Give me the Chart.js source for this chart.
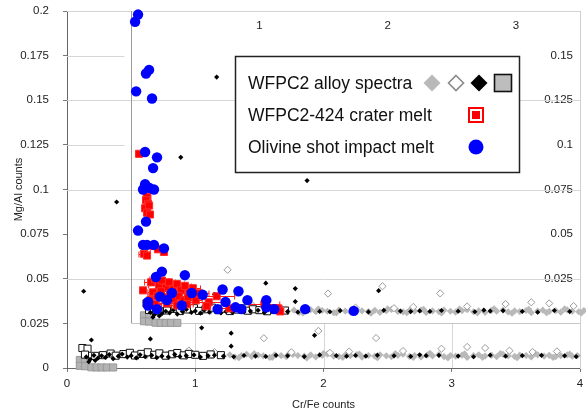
<!DOCTYPE html>
<html>
<head>
<meta charset="utf-8">
<script src="https://cdn.jsdelivr.net/npm/chart.js@4.4.1/dist/chart.umd.min.js"></script>
<style>
  html, body { margin: 0; padding: 0; background: #fff; }
  canvas { display: block; }
</style>
</head>
<body>
<canvas id="chart" width="586" height="413"></canvas>
<script>
// ---- ticks ----
const mainXTicks = [0, 1, 2, 3, 4];
const mainYTicks = [0, 0.025, 0.05, 0.075, 0.1, 0.125, 0.15, 0.175, 0.2];
const insetXTicks = [1, 2, 3];
const insetYTicks = [0.025, 0.05, 0.075, 0.1, 0.125, 0.15];
// inset axes are the main axes shifted by this much
const insetShiftX = 0.5;
const insetShiftY = 0.025;

// ---- WFPC2 alloy spectra (shown on both the main plot and the inset) ----
const grayDiamondX = [0.45, 0.62, 0.78, 0.93, 1.05, 1.13, 1.22, 1.27, 1.31, 1.36, 1.4, 1.44, 1.49, 1.53, 1.58, 1.62, 1.67, 1.71, 1.76, 1.8,
  1.85, 1.9, 1.94, 1.99, 2.03, 2.08, 2.12, 2.17, 2.21, 2.26, 2.3, 2.35, 2.4, 2.44, 2.49, 2.53, 2.58, 2.62, 2.67, 2.71,
  2.76, 2.81, 2.85, 2.9, 2.94, 2.99, 3.03, 3.08, 3.12, 3.17, 3.21, 3.26, 3.31, 3.35, 3.4, 3.44, 3.49, 3.53, 3.58, 3.62,
  3.67, 3.72, 3.76, 3.81, 3.85, 3.9, 3.94, 3.98,
  1.34, 1.46, 1.6, 1.73, 1.87, 2.0, 2.15, 2.28, 2.42, 2.56, 2.7, 2.83, 2.97, 3.1, 3.24, 3.38, 3.51, 3.65, 3.79, 3.92];
const grayDiamondY = [0.0072, 0.0068, 0.0075, 0.0064, 0.0071, 0.0069, 0.0066, 0.0074, 0.0061, 0.0070,
  0.0077, 0.0065, 0.0072, 0.0068, 0.0060, 0.0074, 0.0069, 0.0063, 0.0076, 0.0070,
  0.0066, 0.0073, 0.0062, 0.0071, 0.0078, 0.0067, 0.0064, 0.0072, 0.0069, 0.0075,
  0.0061, 0.0070, 0.0066, 0.0074, 0.0068, 0.0063, 0.0071, 0.0077, 0.0065, 0.0070,
  0.0062, 0.0073, 0.0068, 0.0075, 0.0064, 0.0070, 0.0066, 0.0072, 0.0060, 0.0069,
  0.0074, 0.0067, 0.0071, 0.0063, 0.0076, 0.0068, 0.0065, 0.0072, 0.0070, 0.0062,
  0.0074, 0.0067, 0.0071, 0.0064, 0.0069, 0.0073, 0.0066, 0.0070,
  0.0058, 0.0080, 0.0059, 0.0079, 0.0057, 0.0081, 0.0060, 0.0078, 0.0058, 0.0080,
  0.0059, 0.0082, 0.0057, 0.0079, 0.0060, 0.0081, 0.0058, 0.0080, 0.0059, 0.0078];

const openDiamondX = [0.752, 1.535, 1.96, 2.41, 2.92, 3.12, 3.26, 0.95, 1.75, 2.2, 2.62, 3.45, 3.63, 3.82, 1.15, 2.05];
const openDiamondY = [0.030, 0.0167, 0.0208, 0.0168, 0.0108, 0.0118, 0.0112, 0.0098, 0.0088, 0.0092, 0.0095, 0.0097, 0.0090, 0.0093, 0.0089, 0.0085];

const blackX = [0.15, 0.18, 0.21, 0.24, 0.27, 0.3, 0.33, 0.36, 0.4, 0.43, 0.47, 0.5, 0.54, 0.57, 0.61, 0.66, 0.7, 0.74, 0.79, 0.84,
  0.88, 0.93, 0.99, 1.04, 1.1, 1.15, 1.22, 1.3, 1.38, 1.47, 1.55, 1.63, 1.72, 1.85, 1.97, 2.1, 2.18, 2.25, 2.33, 2.42,
  2.55, 2.68, 2.75, 2.8, 2.9, 3.05, 3.17, 3.3, 3.42, 3.55, 3.7, 3.88, 3.97,
  0.13, 0.19, 0.387, 0.65, 1.28, 1.28, 1.93, 0.667, 1.372, 1.05, 0.17, 0.22];
const blackY = [0.0062, 0.0048, 0.0071, 0.0055, 0.0068, 0.0059, 0.0075, 0.0052, 0.0066, 0.0078,
  0.0061, 0.0069, 0.0057, 0.0074, 0.0063, 0.0071, 0.0058, 0.0067, 0.0062, 0.0076,
  0.0064, 0.0069, 0.0073, 0.0061, 0.0068, 0.0072, 0.0066, 0.0063, 0.0070, 0.0067,
  0.0065, 0.0071, 0.0068, 0.0064, 0.0073, 0.0069, 0.0066, 0.0070, 0.0067, 0.0072,
  0.0068, 0.0065, 0.0074, 0.0069, 0.0071, 0.0067, 0.0063, 0.0072, 0.0066, 0.0069,
  0.0071, 0.0068, 0.0064,
  0.043, 0.0157, 0.093, 0.0163, 0.0195, 0.0122, 0.0183, 0.138, 0.080, 0.0225, 0.0035, 0.0042];

const openSquareX = [0.12, 0.16, 0.14, 0.22, 0.28, 0.34, 0.38, 0.44, 0.49, 0.53, 0.58, 0.63, 0.68, 0.72, 0.77, 0.82, 0.86, 0.91, 0.95, 1.0, 1.06, 1.12, 1.2];
const openSquareY = [0.0112, 0.0108, 0.0075, 0.0068, 0.0072, 0.0081, 0.0069, 0.0078, 0.0085, 0.0070, 0.0079, 0.0088, 0.0074, 0.0082, 0.0069, 0.0077, 0.0084, 0.0071, 0.0079, 0.0074, 0.0068, 0.0076, 0.0072];

const graySquareX = [0.1, 0.14, 0.1, 0.14, 0.19, 0.23, 0.27, 0.31, 0.36];
const graySquareY = [0.0045, 0.0045, 0.0012, 0.001, 0.0004, 0.0003, 0.0003, 0.0003, 0.0003];

// ---- WFPC2-424 crater melt (inset axes) ----
const redX = [0.062, 0.124, 0.116, 0.132, 0.109, 0.140, 0.124, 0.147, 0.101, 0.124, 0.209, 0.256, 0.093, 0.155, 0.186, 0.217,
  0.240, 0.271, 0.295, 0.326, 0.357, 0.388, 0.419, 0.450, 0.481, 0.171, 0.202, 0.233, 0.264, 0.302, 0.333, 0.372,
  0.411, 0.442, 0.504, 0.147, 0.186, 0.279, 0.357, 0.434, 0.527, 0.605, 0.667, 0.589, 0.767, 1.039, 1.147, 1.163];
const redY = [0.095, 0.071, 0.069, 0.067, 0.0645, 0.066, 0.062, 0.061, 0.039, 0.038, 0.0415, 0.040, 0.0185, 0.023, 0.0247, 0.0213,
  0.024, 0.020, 0.023, 0.019, 0.022, 0.0185, 0.021, 0.017, 0.0197, 0.0174, 0.0152, 0.018, 0.0146, 0.0163, 0.0135, 0.0152,
  0.0129, 0.0146, 0.0129, 0.0129, 0.0107, 0.0112, 0.0101, 0.0107, 0.0169, 0.0118, 0.0152, 0.0096, 0.0084, 0.0107, 0.0084, 0.0067];
const redErr = [0, 0.03, 0, 0.02, 0, 0, 0.02, 0, 0.04, 0, 0.06, 0, 0, 0.05, 0.04, 0.08,
  0.06, 0.07, 0.05, 0.09, 0.06, 0.1, 0.05, 0.08, 0.06, 0.04, 0.07, 0.05, 0.06, 0.08, 0.05, 0.07,
  0.04, 0.06, 0.05, 0, 0.05, 0.06, 0.04, 0.05, 0.08, 0.14, 0.14, 0.03, 0.06, 0.12, 0.03, 0];

// ---- Olivine shot impact melt (inset axes) ----
const blueX = [0.054, 0.031, 0.116, 0.140, 0.039, 0.163, 0.109, 0.202, 0.171, 0.109, 0.140, 0.093, 0.178, 0.116, 0.054,
  0.093, 0.124, 0.178, 0.256, 0.194, 0.240, 0.419, 0.132, 0.132, 0.202, 0.225, 0.279, 0.318, 0.395, 0.473,
  0.558, 0.713, 0.736, 0.674, 0.837, 0.814, 0.860, 0.907, 1.054, 1.054, 1.116, 1.357, 1.736];
const blueY = [0.173, 0.169, 0.140, 0.142, 0.130, 0.126, 0.096, 0.093, 0.087, 0.078, 0.076, 0.075, 0.075, 0.057, 0.052,
  0.044, 0.044, 0.044, 0.042, 0.026, 0.029, 0.027, 0.012, 0.010, 0.008, 0.015, 0.013, 0.017, 0.010, 0.017,
  0.016, 0.019, 0.012, 0.008, 0.018, 0.009, 0.008, 0.013, 0.013, 0.009, 0.008, 0.008, 0.007];

const FONT = 'Arial, "Liberation Sans", sans-serif';
Chart.defaults.font.family = FONT;
Chart.defaults.color = '#222';

function toPoints(xs, ys) {
  return xs.map((x, i) => ({ x: x, y: ys[i] }));
}

// the inset hides whatever the main axes would draw behind it
function outsideInset(p) {
  return p.x < insetShiftX || p.y < insetShiftY;
}

function fixedTicks(values) {
  return (scale) => {
    scale.ticks = values.map((v) => ({ value: v }));
  };
}

function alloySets(xAxisID, yAxisID, main) {
  const pick = (xs, ys) => {
    const pts = toPoints(xs, ys);
    return main ? pts.filter(outsideInset) : pts;
  };
  return [
    { label: 'black', data: pick(blackX, blackY), pointStyle: 'rectRot', pointRadius: 2.6,
      backgroundColor: '#000', borderColor: '#000', borderWidth: 0 },
    { label: 'openSquare', data: pick(openSquareX, openSquareY), pointStyle: 'rect', pointRadius: 5,
      backgroundColor: '#fff', borderColor: '#111', borderWidth: 1 },
    { label: 'openDiamond', data: pick(openDiamondX, openDiamondY), pointStyle: 'rectRot', pointRadius: 3.6,
      backgroundColor: '#fff', borderColor: '#9a9a9a', borderWidth: 1 },
    { label: 'grayDiamond', data: pick(grayDiamondX, grayDiamondY), pointStyle: 'rectRot', pointRadius: 3.6,
      backgroundColor: '#b9b9b9', borderColor: '#b9b9b9', borderWidth: 0 },
    { label: 'graySquare', data: pick(graySquareX, graySquareY), pointStyle: 'rect', pointRadius: 5,
      backgroundColor: '#b3b3b3', borderColor: '#999', borderWidth: 1 },
  ].map((d) => Object.assign(d, { xAxisID: xAxisID, yAxisID: yAxisID, clip: 6 }));
}

const datasets = [
  { label: 'blue', data: toPoints(blueX, blueY), xAxisID: 'x2', yAxisID: 'y2', pointStyle: 'circle',
    pointRadius: 5.2, backgroundColor: '#0000ff', borderColor: '#0000ff', borderWidth: 0, clip: 6 },
  { label: 'red', data: toPoints(redX, redY), xAxisID: 'x2', yAxisID: 'y2', pointStyle: 'rect',
    pointRadius: 5, backgroundColor: '#ff0000', borderColor: '#ff2a2a', borderWidth: 1, clip: 6 },
  ...alloySets('x2', 'y2', false),
  ...alloySets('x', 'y', true),
];

const insetPlugin = {
  id: 'insetPlugin',
  beforeDatasetsDraw(chart) {
    const { ctx, chartArea: a, scales: s } = chart;
    const insetLeft = Math.round(s.x2.getPixelForValue(0)) + 0.5;
    const insetBottom = Math.round(s.y2.getPixelForValue(0)) + 0.5;
    const row = (v) => Math.round(s.y.getPixelForValue(v)) + 0.5;
    ctx.save();
    ctx.lineWidth = 1;
    ctx.strokeStyle = '#d6d6d6';
    ctx.beginPath();
    [0.05, 0.1, 0.15].forEach((v) => {
      ctx.moveTo(a.left, row(v));
      ctx.lineTo(a.right, row(v));
    });
    [0.125, 0.175].forEach((v) => {
      ctx.moveTo(a.left, row(v));
      ctx.lineTo(insetLeft - 7, row(v));
    });
    // main columns only visible below the inset
    [1, 2, 3].forEach((v) => {
      const x = Math.round(s.x.getPixelForValue(v)) + 0.5;
      ctx.moveTo(x, insetBottom);
      ctx.lineTo(x, a.bottom);
    });
    ctx.stroke();

    ctx.strokeStyle = '#9a9a9a';
    ctx.beginPath();
    ctx.moveTo(insetLeft, a.top);
    ctx.lineTo(insetLeft, insetBottom);
    ctx.stroke();
    ctx.strokeStyle = '#c6c6c6';
    ctx.beginPath();
    ctx.moveTo(insetLeft, insetBottom);
    ctx.lineTo(a.right, insetBottom);
    ctx.stroke();
    ctx.restore();
  },
  beforeDatasetDraw(chart, args) {
    if (chart.data.datasets[args.index].label !== 'red') return;
    const { ctx, scales: s } = chart;
    ctx.save();
    ctx.strokeStyle = '#ff1a1a';
    ctx.lineWidth = 1;
    ctx.beginPath();
    redX.forEach((x, i) => {
      if (!redErr[i]) return;
      const y = Math.round(s.y2.getPixelForValue(redY[i])) + 0.5;
      const x0 = s.x2.getPixelForValue(x - redErr[i]);
      const x1 = s.x2.getPixelForValue(x + redErr[i]);
      ctx.moveTo(x0, y); ctx.lineTo(x1, y);
      ctx.moveTo(x0, y - 3); ctx.lineTo(x0, y + 3);
      ctx.moveTo(x1, y - 3); ctx.lineTo(x1, y + 3);
    });
    ctx.stroke();
    ctx.restore();
  },
  afterDraw(chart) {
    const ctx = chart.ctx;
    // legend box
    const box = { left: 235.5, top: 56.5, width: 284, height: 116 };
    const rows = [83, 115, 147];
    ctx.save();
    ctx.fillStyle = '#fff';
    ctx.fillRect(box.left, box.top, box.width, box.height);
    ctx.strokeStyle = '#222';
    ctx.lineWidth = 1.5;
    ctx.strokeRect(box.left, box.top, box.width, box.height);

    ctx.fillStyle = '#111';
    ctx.font = '17.5px ' + FONT;
    ctx.textBaseline = 'middle';
    ctx.fillText('WFPC2 alloy spectra', 248, rows[0] + 1);
    ctx.fillText('WFPC2-424 crater melt', 248, rows[1] + 1);
    ctx.fillText('Olivine shot impact melt', 248, rows[2] + 1);

    const diamond = (cx, cy, r) => {
      ctx.beginPath();
      ctx.moveTo(cx, cy - r); ctx.lineTo(cx + r, cy); ctx.lineTo(cx, cy + r); ctx.lineTo(cx - r, cy);
      ctx.closePath();
    };
    ctx.fillStyle = '#b9b9b9';
    diamond(432, rows[0], 8.5); ctx.fill();
    ctx.fillStyle = '#fff'; ctx.strokeStyle = '#8a8a8a'; ctx.lineWidth = 1.6;
    diamond(456, rows[0], 7.5); ctx.fill(); ctx.stroke();
    ctx.fillStyle = '#000';
    diamond(479, rows[0], 8.5); ctx.fill();
    ctx.fillStyle = '#bdbdbd'; ctx.strokeStyle = '#111'; ctx.lineWidth = 1.6;
    ctx.fillRect(494.5, rows[0] - 8.5, 17, 17); ctx.strokeRect(494.5, rows[0] - 8.5, 17, 17);

    ctx.fillStyle = '#ff0000';
    ctx.fillRect(468, rows[1] - 8, 16, 16);
    ctx.fillStyle = '#fff';
    ctx.fillRect(470, rows[1] - 6, 12, 12);
    ctx.fillStyle = '#ff0000';
    ctx.fillRect(472, rows[1] - 4, 8, 8);

    ctx.fillStyle = '#0000ff';
    ctx.beginPath();
    ctx.arc(476, rows[2], 7.5, 0, Math.PI * 2);
    ctx.fill();
    ctx.restore();
  },
};

const tickLabel = (v) => String(+Number(v).toFixed(3));

// keep the plot area flush with the canvas edge, the last x label may be cut off
const noEdgePadding = (size) => (scale) => {
  if (size.height !== undefined) scale.height = size.height;
  if (size.width !== undefined) scale.width = size.width;
  scale.paddingLeft = 0;
  scale.paddingRight = 0;
  scale.paddingTop = 0;
  scale.paddingBottom = 0;
};

new Chart(document.getElementById('chart'), {
  type: 'scatter',
  data: { datasets: datasets },
  options: {
    responsive: false,
    animation: false,
    layout: { padding: { left: 0, top: 11, right: 1, bottom: 0 } },
    plugins: { legend: { display: false }, tooltip: { enabled: false } },
    scales: {
      x: {
        type: 'linear', position: 'bottom', min: 0, max: 4,
        afterBuildTicks: fixedTicks(mainXTicks),
        afterFit: noEdgePadding({ height: 45 }),
        ticks: { callback: tickLabel, font: { size: 11.5 }, padding: 5, color: '#222' },
        grid: { drawOnChartArea: false, tickLength: 4, color: '#777' },
        border: { color: '#666' },
        title: { display: true, text: 'Cr/Fe counts', font: { size: 11 }, color: '#222', padding: { top: 2, bottom: 1 } },
      },
      y: {
        type: 'linear', position: 'left', min: 0, max: 0.2,
        afterBuildTicks: fixedTicks(mainYTicks),
        afterFit: noEdgePadding({ width: 67 }),
        ticks: { callback: tickLabel, font: { size: 11.5 }, padding: 14, color: '#222' },
        grid: { drawOnChartArea: false, tickLength: 4, color: '#777' },
        border: { color: '#666' },
        title: { display: true, text: 'Mg/Al counts', font: { size: 11 }, color: '#222', padding: { top: 12, bottom: 2 } },
      },
      x2: {
        type: 'linear', position: 'top', min: -insetShiftX, max: 4 - insetShiftX,
        afterBuildTicks: fixedTicks(insetXTicks),
        afterFit: noEdgePadding({ height: 0 }),
        ticks: { callback: tickLabel, mirror: true, padding: 8, font: { size: 11.5 }, color: '#222' },
        grid: { drawOnChartArea: false, drawTicks: false },
        border: { color: '#d4d4d4' },
      },
      y2: {
        type: 'linear', position: 'right', min: -insetShiftY, max: 0.2 - insetShiftY,
        afterBuildTicks: fixedTicks(insetYTicks),
        afterFit: noEdgePadding({ width: 0 }),
        ticks: { callback: tickLabel, mirror: true, padding: -7, font: { size: 11.5 }, color: '#222',
          showLabelBackdrop: true, backdropColor: '#fff', backdropPadding: 2 },
        grid: { drawOnChartArea: false, drawTicks: false },
        border: { color: '#cfcfcf' },
      },
    },
  },
  plugins: [insetPlugin],
});
</script>
</body>
</html>
